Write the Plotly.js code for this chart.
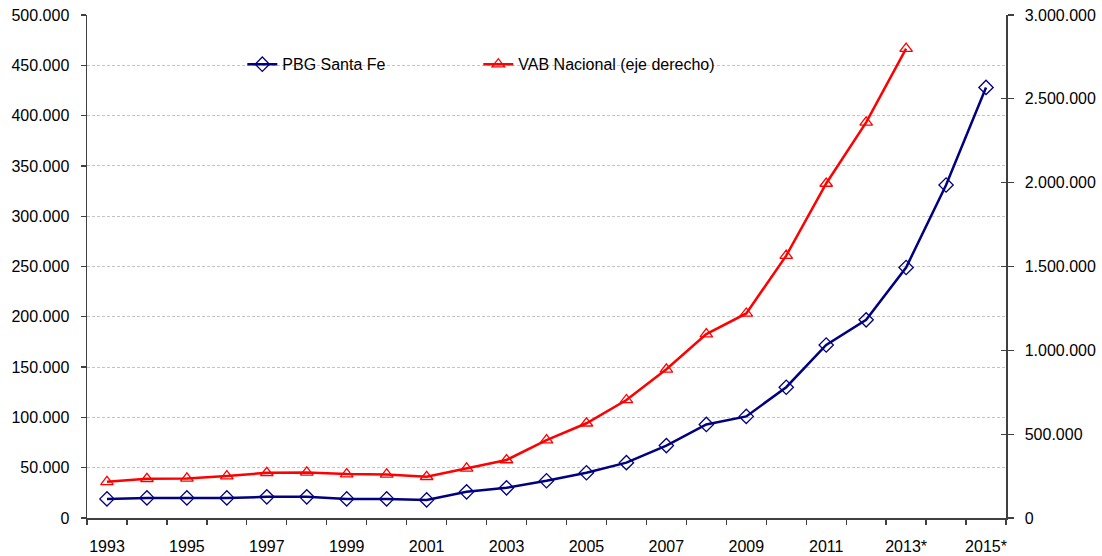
<!DOCTYPE html>
<html>
<head>
<meta charset="utf-8">
<script src="https://cdn.plot.ly/plotly-3.0.1.min.js"></script>
<style>html,body{margin:0;padding:0;background:#fff}#chart{width:1102px;height:556px}</style>
</head>
<body>
<div id="chart"></div>
<script>
const years = ['1993','1994','1995','1996','1997','1998','1999','2000','2001','2002','2003','2004','2005','2006','2007','2008','2009','2010','2011','2012','2013*','2014*','2015*'];
const tickLabels = ['1993','','1995','','1997','','1999','','2001','','2003','','2005','','2007','','2009','','2011','','2013*','','2015*'];
const pbgSantaFe = [19000,20000,20000,20000,21000,21000,19000,19000,18000,26000,30000,37000,45000,55000,72000,93000,101000,130000,172000,197000,249000,331000,428000];
const vabNacional = [216000,234000,236000,250000,270000,272000,262000,260000,246000,296000,346000,465000,565000,704000,887000,1097000,1220000,1565000,1995000,2360000,2800000];
const leftTicks = [0,50000,100000,150000,200000,250000,300000,350000,400000,450000,500000];
const rightTicks = [0,500000,1000000,1500000,2000000,2500000,3000000];

const font = {family: 'Liberation Sans, Arial, sans-serif', size: 16, color: '#000'};
const axisColor = '#404040';

const traces = [
  {
    x: years, y: pbgSantaFe, name: 'PBG Santa Fe', type: 'scatter', mode: 'lines+markers',
    line: {color: '#000080', width: 2.5},
    marker: {symbol: 'diamond-open', size: 11, color: '#000080', line: {width: 1.3, color: '#000080'}},
    yaxis: 'y'
  },
  {
    x: years.slice(0, vabNacional.length), y: vabNacional, name: 'VAB Nacional (eje derecho)', type: 'scatter', mode: 'lines+markers',
    line: {color: '#FF0000', width: 2.5},
    marker: {symbol: 'triangle-up-open', size: 11, color: '#FF0000', line: {width: 1.3, color: '#FF0000'}},
    yaxis: 'y2'
  },
  {
    x: [years[0]], y: [0], yaxis: 'y3', type: 'scatter', mode: 'markers',
    marker: {opacity: 0}, showlegend: false, hoverinfo: 'skip'
  }
];

const layout = {
  width: 1102, height: 556,
  margin: {l: 87, r: 96, t: 15, b: 38, pad: 0},
  paper_bgcolor: '#fff', plot_bgcolor: '#fff',
  font: font,
  separators: ',.',
  showlegend: true,
  legend: {
    orientation: 'h', x: 0.169, xanchor: 'left', y: 0.902, yanchor: 'middle',
    bgcolor: 'rgba(0,0,0,0)', font: font, entrywidth: 191, entrywidthmode: 'pixels',
    itemclick: false
  },
  shapes: [{
    type: 'rect', xref: 'paper', yref: 'paper', x0: 0.0686, x1: 0.792, y0: 0.867, y1: 0.93,
    fillcolor: '#fff', line: {width: 0}, layer: 'between'
  }],
  xaxis: {
    type: 'category', categoryorder: 'array', categoryarray: years,
    range: [-0.5, 22.5], tickmode: 'array', tickvals: years, ticktext: tickLabels, tickangle: 0,
    tickson: 'boundaries', ticks: 'outside', ticklen: 5, tickwidth: 1.3, tickcolor: axisColor,
    ticklabelstandoff: 13,
    showline: true, linecolor: axisColor, linewidth: 1.5, showgrid: false, zeroline: false,
    tickfont: font, fixedrange: true
  },
  yaxis: {
    range: [0, 500000], tickmode: 'array', tickvals: leftTicks, tickformat: ',.0f',
    ticks: 'outside', ticklen: 5, tickwidth: 1.3, tickcolor: axisColor, ticklabelstandoff: 8,
    showline: true, linecolor: axisColor, linewidth: 1.5,
    showgrid: true, gridcolor: '#c4c4c4', griddash: '3px,2px', gridwidth: 1,
    zeroline: false, tickfont: font, fixedrange: true
  },
  yaxis2: {
    overlaying: 'y', side: 'right', range: [0, 3000000], tickmode: 'array', tickvals: rightTicks, tickformat: ',.0f',
    ticks: 'outside', ticklen: 6, tickwidth: 1.3, tickcolor: axisColor, ticklabelstandoff: 8,
    showline: true, linecolor: axisColor, linewidth: 1.5, showgrid: false, zeroline: false,
    tickfont: font, fixedrange: true
  },
  yaxis3: {
    overlaying: 'y', side: 'right', range: [0, 3000000], tickmode: 'array', tickvals: rightTicks,
    ticks: 'inside', ticklen: 5, tickwidth: 1.3, tickcolor: axisColor, showticklabels: false,
    showline: false, showgrid: false, zeroline: false, fixedrange: true
  }
};

Plotly.newPlot('chart', traces, layout, {displayModeBar: false, staticPlot: true});
</script>
</body>
</html>
